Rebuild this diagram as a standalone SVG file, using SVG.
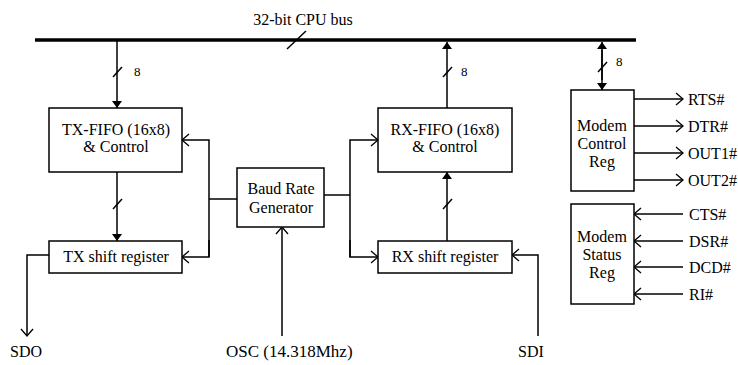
<svg xmlns="http://www.w3.org/2000/svg" width="738" height="365" viewBox="0 0 738 365">
<defs>
<marker id="fill" viewBox="0 0 10 10" refX="10" refY="5" markerWidth="10" markerHeight="10" markerUnits="userSpaceOnUse" orient="auto">
<path d="M3,0 L10,5 L3,10 Z" fill="#000"/>
</marker>
<marker id="open" viewBox="0 0 12 14" refX="11" refY="7" markerWidth="12" markerHeight="14" markerUnits="userSpaceOnUse" orient="auto">
<path d="M4,1 L11,7 L4,13" fill="none" stroke="#000" stroke-width="1.3"/>
</marker>
</defs>
<style>
.box{fill:#fff;stroke:#000;stroke-width:1.5}
.ln{fill:none;stroke:#000;stroke-width:1.5}
.t{font-family:"Liberation Serif","Times New Roman",serif;font-size:16px;fill:#000;text-anchor:middle}
.s{font-family:"Liberation Serif","Times New Roman",serif;font-size:13px;fill:#000}
.l{font-family:"Liberation Serif","Times New Roman",serif;font-size:16px;fill:#000}
</style>
<rect width="738" height="365" fill="#fff"/>
<g id="connectors">
<line x1="35" y1="40" x2="636" y2="40" stroke="#000" stroke-width="3.5"/>
<line class="ln" x1="287" y1="49" x2="306" y2="31"/>
<text class="t" x="303" y="25">32-bit CPU bus</text>
<line class="ln" x1="117" y1="41" x2="117" y2="108" marker-end="url(#fill)"/>
<line class="ln" x1="113" y1="77" x2="122" y2="67"/>
<text class="s" x="134" y="76">8</text>
<line class="ln" x1="447" y1="108" x2="447" y2="42" marker-end="url(#fill)"/>
<line class="ln" x1="443" y1="77" x2="452" y2="67"/>
<text class="s" x="461" y="76">8</text>
<line class="ln" x1="602" y1="50" x2="602" y2="90" marker-end="url(#fill)"/>
<line class="ln" x1="602" y1="80" x2="602" y2="42" marker-end="url(#fill)"/>
<line class="ln" x1="598" y1="72" x2="607" y2="62"/>
<text class="s" x="616" y="66">8</text>
<line class="ln" x1="117" y1="172" x2="117" y2="241" marker-end="url(#fill)"/>
<line class="ln" x1="113" y1="209" x2="122" y2="199"/>
<line class="ln" x1="447" y1="241" x2="447" y2="172" marker-end="url(#fill)"/>
<line class="ln" x1="443" y1="209" x2="452" y2="199"/>
<line class="ln" x1="237" y1="199" x2="209" y2="199"/>
<polyline class="ln" points="209,257 209,140 182,140" marker-end="url(#open)"/>
<polyline class="ln" points="209,240 209,257 182,257" marker-end="url(#open)"/>
<line class="ln" x1="324" y1="195" x2="350" y2="195"/>
<polyline class="ln" points="350,257 350,140 378,140" marker-end="url(#open)"/>
<polyline class="ln" points="350,240 350,257 378,257" marker-end="url(#open)"/>
<line class="ln" x1="282" y1="336" x2="282" y2="227" marker-end="url(#open)"/>
<polyline class="ln" points="49,255 27,255 27,336" marker-end="url(#open)"/>
<polyline class="ln" points="538,336 538,255 512,255" marker-end="url(#open)"/>
<line class="ln" x1="634" y1="99" x2="683" y2="99" marker-end="url(#open)"/>
<line class="ln" x1="634" y1="126" x2="683" y2="126" marker-end="url(#open)"/>
<line class="ln" x1="634" y1="153" x2="683" y2="153" marker-end="url(#open)"/>
<line class="ln" x1="634" y1="180" x2="683" y2="180" marker-end="url(#open)"/>
<line class="ln" x1="683" y1="214" x2="634" y2="214" marker-end="url(#open)"/>
<line class="ln" x1="683" y1="241" x2="634" y2="241" marker-end="url(#open)"/>
<line class="ln" x1="683" y1="267" x2="634" y2="267" marker-end="url(#open)"/>
<line class="ln" x1="683" y1="294" x2="634" y2="294" marker-end="url(#open)"/>
</g>
<g id="tx-fifo">
<rect class="box" x="49" y="108" width="133" height="64"/>
<text class="t" x="116" y="135">TX-FIFO (16x8)</text>
<text class="t" x="116" y="152">&amp; Control</text>
</g>
<g id="tx-shift">
<rect class="box" x="49" y="241" width="133" height="32"/>
<text class="t" x="116" y="262">TX shift register</text>
</g>
<g id="baud">
<rect class="box" x="237" y="168" width="87" height="59"/>
<text class="t" x="281" y="194">Baud Rate</text>
<text class="t" x="281" y="213">Generator</text>
</g>
<g id="rx-fifo">
<rect class="box" x="378" y="108" width="134" height="64"/>
<text class="t" x="445" y="135">RX-FIFO (16x8)</text>
<text class="t" x="445" y="152">&amp; Control</text>
</g>
<g id="rx-shift">
<rect class="box" x="378" y="241" width="134" height="32"/>
<text class="t" x="445" y="262">RX shift register</text>
</g>
<g id="modem-control">
<rect class="box" x="571" y="90" width="63" height="101"/>
<text class="t" x="602" y="131">Modem</text>
<text class="t" x="602" y="149">Control</text>
<text class="t" x="602" y="167">Reg</text>
</g>
<g id="modem-status">
<rect class="box" x="571" y="204" width="63" height="100"/>
<text class="t" x="602" y="242">Modem</text>
<text class="t" x="602" y="260">Status</text>
<text class="t" x="602" y="278">Reg</text>
</g>
<g id="labels">
<text class="l" x="688" y="105">RTS#</text>
<text class="l" x="688" y="132">DTR#</text>
<text class="l" x="688" y="159">OUT1#</text>
<text class="l" x="688" y="186">OUT2#</text>
<text class="l" x="689" y="220">CTS#</text>
<text class="l" x="689" y="247">DSR#</text>
<text class="l" x="689" y="273">DCD#</text>
<text class="l" x="689" y="300">RI#</text>
<text class="l" x="10" y="357">SDO</text>
<text class="l" x="226" y="357" style="font-size:17px">OSC (14.318Mhz)</text>
<text class="l" x="518" y="357">SDI</text>
</g>
</svg>
